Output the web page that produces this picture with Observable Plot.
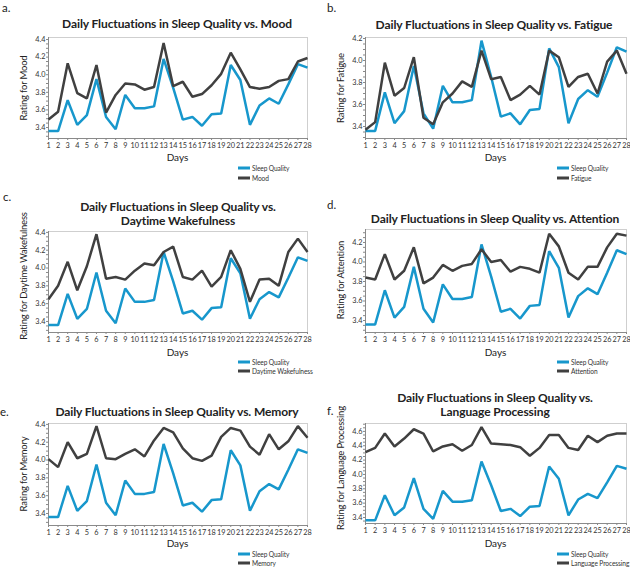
<!DOCTYPE html>
<html>
<head>
<meta charset="utf-8">
<script src="https://cdn.jsdelivr.net/npm/d3@7"></script>
<script src="https://cdn.jsdelivr.net/npm/@observablehq/plot@0.6"></script>
<style>
  body { margin: 0; width: 630px; height: 568px; position: relative; background: #fff; overflow: hidden; font-family: Lato, "Open Sans", sans-serif; color: #222; }
  .panel { position: absolute; width: 315px; height: 190px; }
  .panel svg { position: absolute; left: 0; top: 0; }
  .t { position: absolute; white-space: nowrap; }
  .title { font-weight: bold; font-size: 12px; line-height: 12px; text-align: center; transform: translateX(-50%); letter-spacing: -0.1px; }
  .tag { font-size: 11.5px; }
  .ylab { font-size: 9.5px; letter-spacing: -0.2px; transform: translate(-50%, -50%) rotate(-90deg); }
  .xlab { font-size: 10px; transform: translate(-50%, -50%); }
  .leg { font-size: 6.6px; transform: translateY(-50%); color: #333; letter-spacing: -0.1px; }
  .sw { position: absolute; height: 3px; width: 12px; transform: translateY(-50%); }
</style>
</head>
<body>
<script>
const days = [1,2,3,4,5,6,7,8,9,10,11,12,13,14,15,16,17,18,19,20,21,22,23,24,25,26,27,28];
const sleepQuality = [3.36,3.36,3.71,3.43,3.54,3.95,3.52,3.38,3.77,3.62,3.62,3.64,4.18,3.85,3.49,3.52,3.42,3.55,3.56,4.11,3.94,3.43,3.65,3.73,3.67,3.89,4.12,4.08];
const mood = [3.49,3.58,4.13,3.79,3.73,4.11,3.57,3.77,3.90,3.89,3.83,3.86,4.36,3.87,3.92,3.75,3.78,3.88,4.01,4.25,4.06,3.86,3.84,3.86,3.93,3.95,4.15,4.19];
const fatigue = [3.37,3.44,3.98,3.68,3.75,4.03,3.48,3.42,3.62,3.70,3.81,3.76,4.09,3.83,3.85,3.64,3.69,3.77,3.69,4.09,4.03,3.76,3.85,3.88,3.70,3.99,4.09,3.88];
const wakefulness = [3.65,3.80,4.07,3.75,4.02,4.38,3.88,3.90,3.87,3.97,4.05,4.03,4.18,4.24,3.90,3.87,3.97,3.79,3.90,4.20,3.99,3.62,3.87,3.88,3.80,4.18,4.33,4.18];
const attention = [3.84,3.82,4.08,3.82,3.91,4.15,3.78,3.84,3.97,3.91,3.96,3.98,4.13,4.00,4.02,3.90,3.95,3.93,3.89,4.29,4.16,3.89,3.82,3.95,3.95,4.15,4.29,4.27];
const memory = [4.01,3.92,4.20,4.02,4.07,4.38,4.02,4.01,4.07,4.12,4.04,4.22,4.36,4.31,4.13,4.02,3.99,4.05,4.26,4.36,4.33,4.15,4.06,4.29,4.12,4.21,4.38,4.25];
const language = [4.31,4.37,4.57,4.39,4.50,4.63,4.57,4.32,4.39,4.42,4.33,4.41,4.66,4.43,4.42,4.41,4.38,4.26,4.37,4.55,4.55,4.37,4.34,4.54,4.45,4.54,4.57,4.57];

const seriesNames = ["Mood","Fatigue","Daytime Wakefulness","Attention","Memory","Language Processing"];
const seriesValues = [mood, fatigue, wakefulness, attention, memory, language];
const panelTags = ["a.","b.","c.","d.","e.","f."];
const yTicksList = [
  [3.4,3.6,3.8,4.0,4.2,4.4],
  [3.4,3.6,3.8,4.0,4.2],
  [3.4,3.6,3.8,4.0,4.2,4.4],
  [3.4,3.6,3.8,4.0,4.2],
  [3.4,3.6,3.8,4.0,4.2,4.4],
  [3.4,3.6,3.8,4.0,4.2,4.4,4.6]
];

const BLUE = "#1797cc";
const GRAY = "#404040";

// layout per panel (pixels relative to panel origin)
const layout = [
  {ox:0,   oy:0,   L:48, R:307, T:37, B:138, yd:[3.275,4.423], tx:177, ty:[18], tag:[2,1],   ylx:23, yly:88, days:157, leg:[168,178], swx:238},
  {ox:315, oy:0,   L:50, R:311, T:37, B:138, yd:[3.291,4.209], tx:179, ty:[19], tag:[12,1],  ylx:25, yly:88, days:157, leg:[168,178], swx:242},
  {ox:0,   oy:190, L:48, R:307, T:41, B:142, yd:[3.276,4.41],  tx:178, ty:[11,25], tag:[3,0], ylx:23, yly:86, days:162, leg:[172,181], swx:238},
  {ox:315, oy:190, L:50, R:311, T:39, B:142, yd:[3.277,4.333], tx:180, ty:[23], tag:[12,8],  ylx:25, yly:90, days:162, leg:[172,181], swx:242},
  {ox:0,   oy:380, L:48, R:307, T:43, B:145, yd:[3.265,4.41],  tx:177, ty:[26], tag:[0,25],  ylx:23, yly:94, days:163, leg:[174,183], swx:238},
  {ox:315, oy:380, L:50, R:311, T:43, B:143, yd:[3.316,4.71],  tx:180, ty:[12,26], tag:[12,24], ylx:25, yly:88, days:163, leg:[174,183], swx:242}
];

function addText(parent, cls, text, x, y) {
  const el = document.createElement("div");
  el.className = "t " + cls;
  el.textContent = text;
  el.style.left = x + "px";
  el.style.top = y + "px";
  parent.appendChild(el);
  return el;
}

seriesNames.forEach((name, i) => {
  const lay = layout[i];
  const panel = document.createElement("div");
  panel.className = "panel";
  panel.style.left = lay.ox + "px";
  panel.style.top = lay.oy + "px";
  document.body.appendChild(panel);

  const rows = [];
  days.forEach((d, k) => rows.push({day: d, value: sleepQuality[k], series: "Sleep Quality"}));
  days.forEach((d, k) => rows.push({day: d, value: seriesValues[i][k], series: name}));

  const yd = lay.yd;
  const minor = [];
  for (let v = Math.ceil(yd[0] / 0.05) * 0.05; v <= yd[1] + 1e-9; v += 0.05) minor.push(+v.toFixed(2));

  const chart = Plot.plot({
    width: 315,
    height: 190,
    marginLeft: lay.L,
    marginRight: 315 - lay.R,
    marginTop: lay.T,
    marginBottom: 190 - lay.B,
    style: {fontFamily: "Lato, sans-serif", fontSize: "7.3px", color: "#333", background: "transparent", overflow: "visible"},
    x: {type: "linear", domain: [1, 28], label: null},
    y: {domain: yd, label: null},
    color: {domain: ["Sleep Quality", name], range: [BLUE, GRAY]},
    marks: [
      Plot.frame({stroke: "#cfcfcf", strokeWidth: 1}),
      Plot.ruleX([1], {stroke: "#8a8a8a", strokeWidth: 1}),
      Plot.ruleY([yd[0]], {stroke: "#8a8a8a", strokeWidth: 1}),
      Plot.axisY({ticks: minor, tickSize: 2, tickFormat: () => "", stroke: "#888", label: null}),
      Plot.axisY({ticks: yTicksList[i], tickSize: 0, tickPadding: 3, tickFormat: d3.format(".1f"), label: null}),
      Plot.axisX({ticks: days, tickSize: 2, tickPadding: 2, tickFormat: d => String(d), label: null, stroke: "#888"}),
      Plot.line(rows, {x: "day", y: "value", z: "series", stroke: "series", strokeWidth: 2.5, strokeLinejoin: "miter", strokeLinecap: "butt"})
    ]
  });
  panel.appendChild(chart);

  const titleLines = (i === 2 || i === 5)
    ? ["Daily Fluctuations in Sleep Quality vs.", name]
    : ["Daily Fluctuations in Sleep Quality vs. " + name];
  titleLines.forEach((line, j) => addText(panel, "title", line, lay.tx, lay.ty[j]));
  addText(panel, "tag", panelTags[i], lay.tag[0], lay.tag[1]);
  addText(panel, "ylab", "Rating for " + name, lay.ylx, lay.yly);
  addText(panel, "xlab", "Days", (lay.L + lay.R) / 2, lay.days);

  ["Sleep Quality", name].forEach((s, j) => {
    const sw = document.createElement("div");
    sw.className = "sw";
    sw.style.left = lay.swx + "px";
    sw.style.top = lay.leg[j] + "px";
    sw.style.background = j === 0 ? BLUE : GRAY;
    panel.appendChild(sw);
    addText(panel, "leg", s, lay.swx + 14, lay.leg[j]);
  });
});
</script>
</body>
</html>
